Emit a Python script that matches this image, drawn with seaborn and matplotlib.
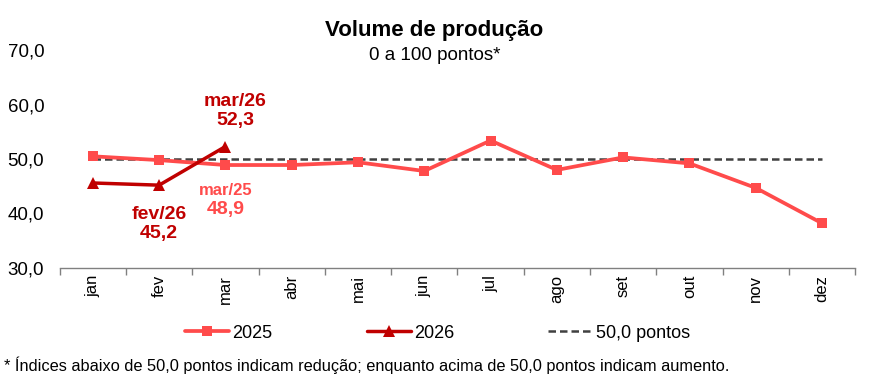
import pandas as pd
import matplotlib.pyplot as plt
import seaborn as sns

# Chart data
MONTHS = ['jan', 'fev', 'mar', 'abr', 'mai', 'jun', 'jul', 'ago', 'set', 'out', 'nov', 'dez']
VALUES_2025 = [50.5, 49.8, 48.9, 48.9, 49.4, 47.8, 53.4, 48.0, 50.3, 49.2, 44.7, 38.2]
VALUES_2026 = [45.6, 45.2, 52.3]
REFERENCE = [50.0] * 12
Y_TICKS = [30, 40, 50, 60, 70]

COLOR_2025 = '#FF4B4B'
COLOR_2026 = '#C00000'
COLOR_REF = '#404040'

OUTPUT_IMAGE_PATH = 'out.png'


def fmt(v):
    return f'{v:.1f}'.replace('.', ',')


def build_frames():
    df25 = pd.DataFrame({'pos': range(len(VALUES_2025)), 'valor': VALUES_2025})
    df26 = pd.DataFrame({'pos': range(len(VALUES_2026)), 'valor': VALUES_2026})
    dfref = pd.DataFrame({'pos': range(len(REFERENCE)), 'valor': REFERENCE})
    return df25, df26, dfref


def draw_chart():
    sns.set_style('white')
    plt.rcParams['font.family'] = ['Liberation Sans', 'DejaVu Sans']
    plt.rcParams['text.color'] = 'black'
    plt.rcParams['xtick.color'] = 'black'
    plt.rcParams['ytick.color'] = 'black'

    df25, df26, dfref = build_frames()

    fig = plt.figure(figsize=(8.78, 3.8), dpi=100)
    ax = fig.add_axes([0.068, 0.295, 0.906, 0.573])

    sns.lineplot(data=dfref, x='pos', y='valor', ax=ax, color=COLOR_REF,
                 linestyle=(0, (3, 1.6)), linewidth=1.8, label='50,0 pontos', zorder=2)
    sns.lineplot(data=df25, x='pos', y='valor', ax=ax, color=COLOR_2025,
                 marker='s', markersize=7.5, markeredgewidth=0, linewidth=2.7,
                 label='2025', zorder=3)
    sns.lineplot(data=df26, x='pos', y='valor', ax=ax, color=COLOR_2026,
                 marker='^', markersize=9, markeredgewidth=0, linewidth=2.5,
                 label='2026', zorder=4)

    # Axes styling
    ax.set_xlim(-0.5, len(MONTHS) - 0.5)
    ax.set_ylim(Y_TICKS[0], Y_TICKS[-1])
    ax.set_yticks(Y_TICKS)
    ax.set_yticklabels([fmt(v) for v in Y_TICKS], fontsize=13.5)
    ax.set_xticks(range(len(MONTHS)))
    ax.set_xticklabels(MONTHS, rotation=90, fontsize=12)
    ax.set_xticks([i - 0.5 for i in range(len(MONTHS) + 1)], minor=True)
    ax.tick_params(axis='x', which='major', bottom=False, length=0, pad=5)
    ax.tick_params(axis='x', which='minor', bottom=True, length=5, width=1,
                   color='#808080', direction='out')
    ax.tick_params(axis='y', left=False, length=0, pad=37.5)
    for lbl in ax.get_yticklabels():
        lbl.set_horizontalalignment('left')
    ax.set_xlabel('')
    ax.set_ylabel('')
    for side in ['top', 'right', 'left']:
        ax.spines[side].set_visible(False)
    ax.spines['bottom'].set_color('#808080')
    ax.spines['bottom'].set_linewidth(1)

    # Annotations
    ax.text(2.15, 58.8, 'mar/26\n' + fmt(VALUES_2026[2]), color=COLOR_2026,
            fontsize=14, fontweight='bold', ha='center', va='center', linespacing=1.2)
    ax.text(1.0, 38.1, 'fev/26\n' + fmt(VALUES_2026[1]), color=COLOR_2026,
            fontsize=14, fontweight='bold', ha='center', va='center', linespacing=1.2)
    ax.text(2.0, 44.3, 'mar/25', color=COLOR_2025, fontsize=12, fontweight='bold',
            ha='center', va='center')
    ax.text(2.0, 40.8, fmt(VALUES_2025[2]), color=COLOR_2025, fontsize=14,
            fontweight='bold', ha='center', va='center')

    # Legend in the order 2025, 2026, reference
    handles, labels = ax.get_legend_handles_labels()
    order = [labels.index('2025'), labels.index('2026'), labels.index('50,0 pontos')]
    ax.legend([handles[i] for i in order], [labels[i] for i in order],
              loc='center', bbox_to_anchor=(0.475, -0.30), ncol=3, frameon=False,
              fontsize=13, handlelength=2.45, columnspacing=5.2, handletextpad=0.2)

    # Titles and footnote
    fig.text(0.495, 0.92, 'Volume de produção', fontsize=16, fontweight='bold',
             ha='center', va='center')
    fig.text(0.495, 0.855, '0 a 100 pontos*', fontsize=13.5, ha='center', va='center')
    fig.text(0.005, 0.04,
             '* Índices abaixo de 50,0 pontos indicam redução; enquanto acima de 50,0 pontos indicam aumento.',
             fontsize=11.8, ha='left', va='center')

    plt.savefig(OUTPUT_IMAGE_PATH, dpi=100)
    plt.close()


if __name__ == '__main__':
    draw_chart()
